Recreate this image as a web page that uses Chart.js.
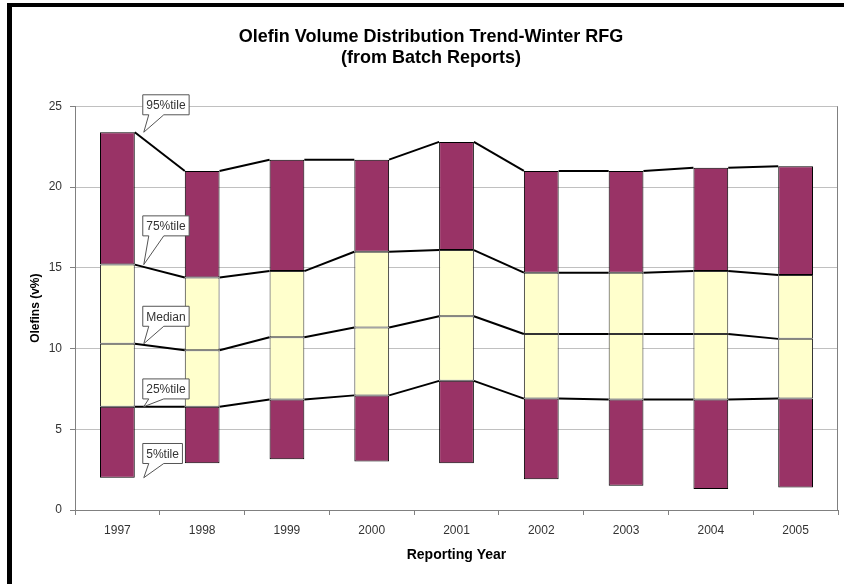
<!DOCTYPE html>
<html>
<head>
<meta charset="utf-8">
<title>Olefin Volume Distribution Trend-Winter RFG</title>
<script src="https://cdn.jsdelivr.net/npm/chart.js@4.4.1/dist/chart.umd.min.js"></script>
<style>
  html, body { margin: 0; padding: 0; background: #ffffff; }
  #wrap { position: relative; width: 844px; height: 584px; }
</style>
</head>
<body>
<div id="wrap"><canvas id="chart" width="844" height="584"></canvas></div>
<script>
// Olefin percentiles per reporting year
const years  = ['1997', '1998', '1999', '2000', '2001', '2002', '2003', '2004', '2005'];
const p5     = [2.0, 2.9, 3.15, 3.0, 2.9, 1.9, 1.5, 1.3, 1.4];
const p25    = [6.4, 6.4, 6.85, 7.1, 8.0, 6.9, 6.85, 6.85, 6.9];
const median = [10.3, 9.9, 10.7, 11.3, 12.0, 10.9, 10.9, 10.9, 10.6];
const p75    = [15.2, 14.4, 14.8, 16.0, 16.1, 14.7, 14.7, 14.8, 14.55];
const p95    = [23.4, 21.0, 21.7, 21.7, 22.8, 21.0, 21.0, 21.2, 21.3];
const yTicks = [0, 5, 10, 15, 20, 25];

const PLUM = '#993366';
const CREAM = '#ffffcc';
const FONT = 'Arial, "Liberation Sans", sans-serif';

// floating bar segments: [low, high] per year
function band(lo, hi) {
    return years.map((_, i) => [lo[i], hi[i]]);
}

function segment(label, lo, hi, color, edge) {
    return {
        label: label,
        data: band(lo, hi),
        backgroundColor: color,
        borderColor: edge,
        borderWidth: 1,
        borderSkipped: false,
        grouped: false,
        categoryPercentage: 1.0,
        barPercentage: 0.41
    };
}

// black frame of the original screenshot
const framePlugin = {
    id: 'frame',
    beforeDraw(chart) {
        const ctx = chart.ctx;
        ctx.save();
        ctx.fillStyle = '#ffffff';
        ctx.fillRect(0, 0, chart.width, chart.height);
        ctx.fillStyle = '#000000';
        ctx.fillRect(7, 3, 5, chart.height);
        ctx.fillRect(7, 3, chart.width, 4);
        ctx.restore();
    },
    beforeDatasetsDraw(chart) {
        // right border of the plot area
        const a = chart.chartArea, ctx = chart.ctx;
        ctx.save();
        ctx.strokeStyle = '#808080';
        ctx.lineWidth = 1;
        ctx.beginPath();
        ctx.moveTo(Math.round(a.right) - 0.5, a.top);
        ctx.lineTo(Math.round(a.right) - 0.5, a.bottom);
        ctx.stroke();
        ctx.restore();
    }
};

// Excel-style series lines joining bar edges, plus the callout labels
const seriesLinePlugin = {
    id: 'seriesLines',
    afterDatasetsDraw(chart, args, opts) {
        const ctx = chart.ctx;
        const y = chart.scales.y;
        const bars = chart.getDatasetMeta(0).data;
        ctx.save();
        ctx.strokeStyle = '#000000';
        ctx.lineWidth = 2;
        opts.levels.forEach(level => {
            for (let i = 0; i < bars.length - 1; i++) {
                const a = bars[i], b = bars[i + 1];
                ctx.beginPath();
                ctx.moveTo(a.x + a.width / 2, y.getPixelForValue(level[i]));
                ctx.lineTo(b.x - b.width / 2, y.getPixelForValue(level[i + 1]));
                ctx.stroke();
            }
        });

        // callouts next to the first bar
        ctx.font = '12px ' + FONT;
        ctx.textAlign = 'center';
        ctx.textBaseline = 'middle';
        opts.callouts.forEach(c => {
            const first = bars[0];
            const tipX = first.x + first.width / 2 + 8;
            const tipY = y.getPixelForValue(c.level[0]);
            const w = ctx.measureText(c.text).width + 7;
            const h = 20;
            const left = tipX;
            const cy = y.getPixelForValue(c.boxAt);
            const top = cy - h / 2, bottom = cy + h / 2;
            ctx.beginPath();
            ctx.moveTo(left, top);
            ctx.lineTo(left + w, top);
            ctx.lineTo(left + w, bottom);
            ctx.lineTo(left + 21, bottom);
            ctx.lineTo(tipX + 1, tipY);
            ctx.lineTo(left + 6, bottom);
            ctx.lineTo(left, bottom);
            ctx.closePath();
            ctx.fillStyle = '#ffffff';
            ctx.fill();
            ctx.strokeStyle = '#555555';
            ctx.lineWidth = 1;
            ctx.stroke();
            ctx.fillStyle = '#333333';
            ctx.fillText(c.text, left + w / 2, cy + 1);
        });
        ctx.restore();
    }
};

new Chart(document.getElementById('chart'), {
    type: 'bar',
    data: {
        labels: years,
        datasets: [
            segment('5%-25%', p5, p25, PLUM, '#000000'),
            segment('25%-Median', p25, median, CREAM, '#333333'),
            segment('Median-75%', median, p75, CREAM, '#333333'),
            segment('75%-95%', p75, p95, PLUM, '#000000')
        ]
    },
    options: {
        responsive: false,
        animation: false,
        layout: { padding: { left: 24, right: 6, top: 0, bottom: 0 } },
        plugins: {
            legend: { display: false },
            tooltip: { enabled: false },
            title: {
                display: true,
                text: ['Olefin Volume Distribution Trend-Winter RFG', '(from Batch Reports)'],
                color: '#000000',
                font: { family: FONT, size: 18, weight: 'bold', lineHeight: 1.15 },
                padding: { top: 27, bottom: 38 }
            },
            seriesLines: {
                levels: [p25, median, p75, p95],
                callouts: [
                    { text: '95%tile', level: p95, boxAt: 25.1 },
                    { text: '75%tile', level: p75, boxAt: 17.6 },
                    { text: 'Median', level: median, boxAt: 12.0 },
                    { text: '25%tile', level: p25, boxAt: 7.5 },
                    { text: '5%tile', level: p5, boxAt: 3.5 }
                ]
            }
        },
        scales: {
            x: {
                offset: true,
                grid: {
                    offset: true,
                    drawOnChartArea: false,
                    drawTicks: true,
                    tickLength: 5,
                    tickColor: '#808080'
                },
                border: { color: '#808080', width: 1 },
                ticks: { color: '#333333', padding: 8, font: { family: FONT, size: 12 } },
                title: {
                    display: true,
                    text: 'Reporting Year',
                    color: '#000000',
                    font: { family: FONT, size: 14, weight: 'bold' },
                    padding: { top: 0, bottom: 20 }
                },
                afterFit(scale) { scale.height = 74; }
            },
            y: {
                min: 0,
                max: 25,
                afterBuildTicks(scale) { scale.ticks = yTicks.map(v => ({ value: v })); },
                grid: {
                    color: '#c0c0c0',
                    drawTicks: true,
                    tickLength: 5,
                    tickColor: '#808080'
                },
                border: { color: '#808080', width: 1 },
                ticks: { color: '#333333', padding: 8, font: { family: FONT, size: 12 } },
                title: {
                    display: true,
                    text: 'Olefins (v%)',
                    color: '#000000',
                    font: { family: FONT, size: 12, weight: 'bold' },
                    padding: { top: 4, bottom: 0 }
                },
                afterFit(scale) { scale.width = 51; }
            }
        }
    },
    plugins: [framePlugin, seriesLinePlugin]
});
</script>
</body>
</html>
